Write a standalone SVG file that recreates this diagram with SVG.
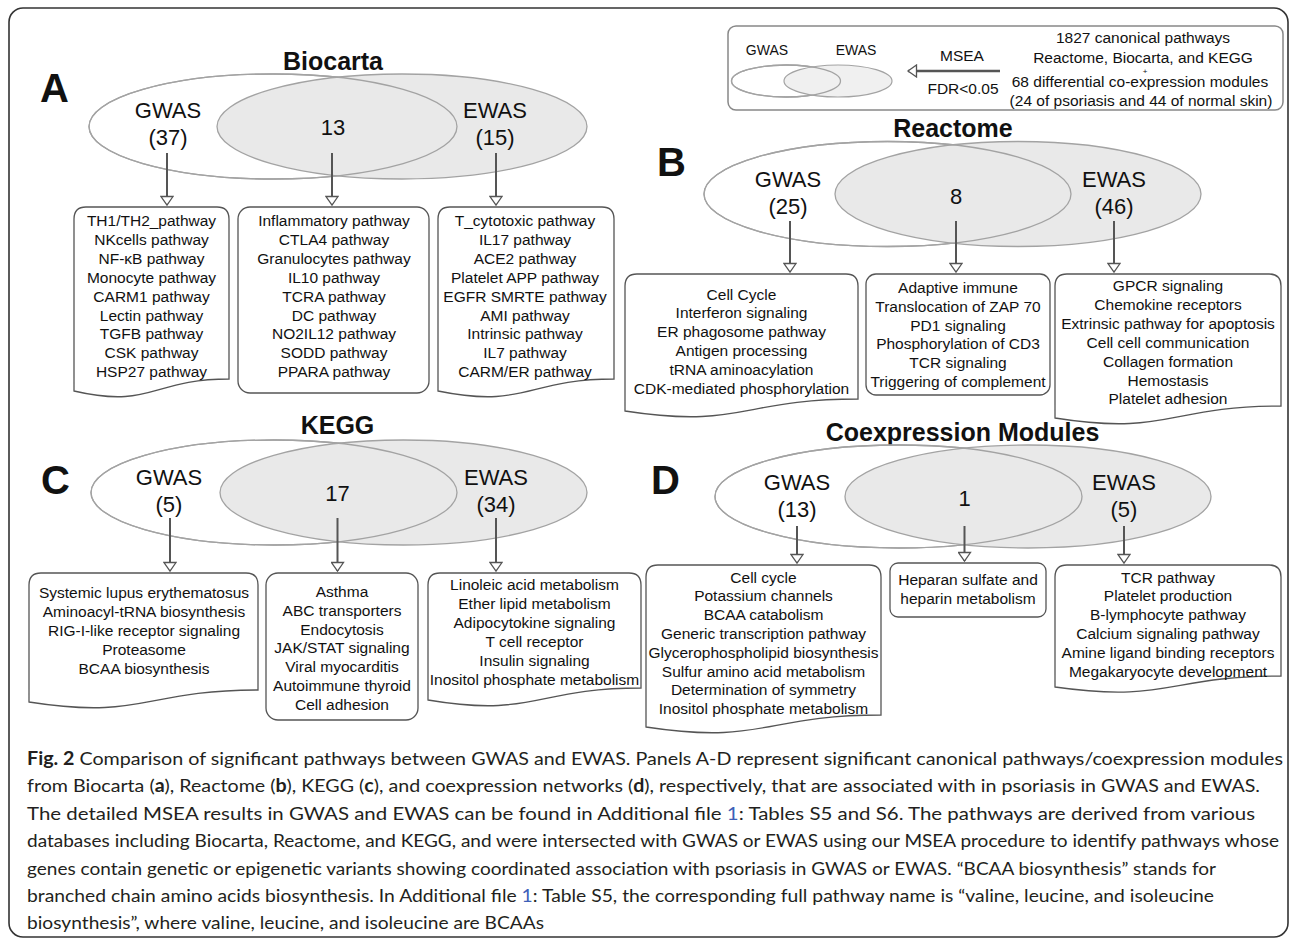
<svg xmlns="http://www.w3.org/2000/svg" width="1292" height="942" viewBox="0 0 1292 942">
<style>
.t{font-family:"Liberation Sans",Arial,Helvetica,sans-serif;fill:#111}
.bx{font-size:15.5px;text-anchor:middle}
.vn{font-size:22px;text-anchor:middle}
.ti{font-size:25px;font-weight:bold;text-anchor:middle}
.lt{font-size:40px;font-weight:bold}
.lg{font-size:15.5px;text-anchor:middle}
.cap{font-family:Lato,"Liberation Sans",Arial,sans-serif;font-size:18px;fill:#231f20}
.cap .b{font-weight:bold}
.cap .l{fill:#3d5fb8}
.shape{fill:#fff;stroke:#555;stroke-width:1.3}
.eg{fill:#fff;stroke:#a3a3a3;stroke-width:1.3}
.ee{fill:#e9e9e9;stroke:#a3a3a3;stroke-width:1.3}
.eo{fill:none;stroke:#a3a3a3;stroke-width:1.3}
.conn{stroke:#555;stroke-width:2;fill:none;marker-end:url(#ah)}
</style>
<defs>
<marker id="ah" markerUnits="userSpaceOnUse" markerWidth="12" markerHeight="14" refX="10" refY="7" orient="auto">
<path d="M1.5,1 L10,7 L1.5,13 Z" fill="#fff" stroke="#555" stroke-width="1.3"/>
</marker>
</defs>
<rect width="1292" height="942" fill="#fff"/>
<rect id="frame" x="9" y="8" width="1279" height="929" rx="14" fill="none" stroke="#333" stroke-width="1.6"/>

<g id="legend">
<rect x="728" y="26" width="555" height="84" rx="8" fill="#fff" stroke="#888" stroke-width="1.5"/>
<ellipse cx="786" cy="81" rx="54.5" ry="16" class="eg"/>
<ellipse cx="838" cy="81" rx="54" ry="16" fill="#f0f0f0" stroke="#a3a3a3" stroke-width="1.2"/>
<ellipse cx="786" cy="81" rx="54.5" ry="16" class="eo" stroke-width="1.2"/>
<text class="t" x="767" y="55" font-size="14" text-anchor="middle">GWAS</text>
<text class="t" x="856" y="55" font-size="14" text-anchor="middle">EWAS</text>
<text class="t lg" x="962" y="61">MSEA</text>
<text class="t lg" x="963" y="94">FDR&lt;0.05</text>
<line x1="1000" y1="71" x2="908" y2="71" stroke="#555" stroke-width="2.5" marker-end="url(#ah)"/>
<text class="t lg" x="1143" y="42.5">1827 canonical pathways</text>
<text class="t lg" x="1143" y="62.5">Reactome, Biocarta, and KEGG</text>
<text class="t" x="1145" y="73.5" font-size="8" text-anchor="middle">+</text>
<text class="t lg" x="1140" y="87">68 differential co-expression modules</text>
<text class="t lg" x="1141" y="105.5">(24 of psoriasis and 44 of normal skin)</text>
</g>

<!-- Panel A -->
<g id="panelA-venn">
<text class="t ti" x="333" y="70">Biocarta</text>
<text class="t lt" x="40" y="102">A</text>
<ellipse cx="273" cy="126.5" rx="184" ry="52.5" class="eg"/>
<ellipse cx="402" cy="126.5" rx="185" ry="52.5" class="ee"/>
<ellipse cx="273" cy="126.5" rx="184" ry="52.5" class="eo"/>
<text class="t vn" x="168" y="118">GWAS</text>
<text class="t vn" x="168" y="145">(37)</text>
<text class="t vn" x="333" y="135">13</text>
<text class="t vn" x="495" y="118">EWAS</text>
<text class="t vn" x="495" y="145">(15)</text>
</g>
<g id="boxA1">
<path class="shape" d="M74,219 Q74,207 86,207 H217 Q229,207 229,219 V379 C151.5,379 151.5,409 74,391 Z"/>
<g class="t bx">
<text x="151.5" y="226">TH1/TH2_pathway</text>
<text x="151.5" y="244.9">NKcells pathway</text>
<text x="151.5" y="263.8">NF-κB pathway</text>
<text x="151.5" y="282.7">Monocyte pathway</text>
<text x="151.5" y="301.6">CARM1 pathway</text>
<text x="151.5" y="320.5">Lectin pathway</text>
<text x="151.5" y="339.4">TGFB pathway</text>
<text x="151.5" y="358.3">CSK pathway</text>
<text x="151.5" y="377.2">HSP27 pathway</text>
</g>
</g>
<g id="boxA2">
<rect class="shape" x="238" y="207" width="191" height="186" rx="12"/>
<g class="t bx">
<text x="334" y="226">Inflammatory pathway</text>
<text x="334" y="244.9">CTLA4 pathway</text>
<text x="334" y="263.8">Granulocytes pathway</text>
<text x="334" y="282.7">IL10 pathway</text>
<text x="334" y="301.6">TCRA pathway</text>
<text x="334" y="320.5">DC pathway</text>
<text x="334" y="339.4">NO2IL12 pathway</text>
<text x="334" y="358.3">SODD pathway</text>
<text x="334" y="377.2">PPARA pathway</text>
</g>
</g>
<g id="boxA3">
<path class="shape" d="M438,219 Q438,207 450,207 H602 Q614,207 614,219 V379 C526,379 526,409 438,391 Z"/>
<g class="t bx">
<text x="525" y="226">T_cytotoxic pathway</text>
<text x="525" y="244.9">IL17 pathway</text>
<text x="525" y="263.8">ACE2 pathway</text>
<text x="525" y="282.7">Platelet APP pathway</text>
<text x="525" y="301.6">EGFR SMRTE pathway</text>
<text x="525" y="320.5">AMI pathway</text>
<text x="525" y="339.4">Intrinsic pathway</text>
<text x="525" y="358.3">IL7 pathway</text>
<text x="525" y="377.2">CARM/ER pathway</text>
</g>
</g>

<!-- Panel B -->
<g id="panelB-venn">
<text class="t ti" x="953" y="137">Reactome</text>
<text class="t lt" x="657" y="176">B</text>
<ellipse cx="887.5" cy="194" rx="183.5" ry="52.5" class="eg"/>
<ellipse cx="1018" cy="194" rx="183" ry="52.5" class="ee"/>
<ellipse cx="887.5" cy="194" rx="183.5" ry="52.5" class="eo"/>
<text class="t vn" x="788" y="187">GWAS</text>
<text class="t vn" x="788" y="214">(25)</text>
<text class="t vn" x="956" y="204">8</text>
<text class="t vn" x="1114" y="187">EWAS</text>
<text class="t vn" x="1114" y="214">(46)</text>
</g>
<g id="boxB1">
<path class="shape" d="M625,286 Q625,274 637,274 H846 Q858,274 858,286 V399 C741.5,399 741.5,429 625,411 Z"/>
<g class="t bx">
<text x="741.5" y="299.5">Cell Cycle</text>
<text x="741.5" y="318.3">Interferon signaling</text>
<text x="741.5" y="337.1">ER phagosome pathway</text>
<text x="741.5" y="355.9">Antigen processing</text>
<text x="741.5" y="374.7">tRNA aminoacylation</text>
<text x="741.5" y="393.5">CDK-mediated phosphorylation</text>
</g>
</g>
<g id="boxB2">
<rect class="shape" x="866" y="274" width="184" height="121" rx="10"/>
<g class="t bx">
<text x="958" y="293">Adaptive immune</text>
<text x="958" y="311.8">Translocation of ZAP 70</text>
<text x="958" y="330.6">PD1 signaling</text>
<text x="958" y="349.4">Phosphorylation of CD3</text>
<text x="958" y="368.2">TCR signaling</text>
<text x="958" y="387">Triggering of complement</text>
</g>
</g>
<g id="boxB3">
<path class="shape" d="M1055,286 Q1055,274 1067,274 H1269 Q1281,274 1281,286 V406 C1168,406 1168,436 1055,418 Z"/>
<g class="t bx">
<text x="1168" y="291">GPCR signaling</text>
<text x="1168" y="309.9">Chemokine receptors</text>
<text x="1168" y="328.8">Extrinsic pathway for apoptosis</text>
<text x="1168" y="347.7">Cell cell communication</text>
<text x="1168" y="366.6">Collagen formation</text>
<text x="1168" y="385.5">Hemostasis</text>
<text x="1168" y="404.4">Platelet adhesion</text>
</g>
</g>

<!-- Panel C -->
<g id="panelC-venn">
<text class="t ti" x="337.5" y="434">KEGG</text>
<text class="t lt" x="41" y="494">C</text>
<ellipse cx="274" cy="492.5" rx="183" ry="52.5" class="eg"/>
<ellipse cx="403.5" cy="492.5" rx="183.5" ry="52.5" class="ee"/>
<ellipse cx="274" cy="492.5" rx="183" ry="52.5" class="eo"/>
<text class="t vn" x="169" y="485">GWAS</text>
<text class="t vn" x="169" y="512">(5)</text>
<text class="t vn" x="337.5" y="501">17</text>
<text class="t vn" x="496" y="485">EWAS</text>
<text class="t vn" x="496" y="512">(34)</text>
</g>
<g id="boxC1">
<path class="shape" d="M29,585 Q29,573 41,573 H246 Q258,573 258,585 V690 C143.5,690 143.5,720 29,702 Z"/>
<g class="t bx">
<text x="144" y="597.5">Systemic lupus erythematosus</text>
<text x="144" y="616.5">Aminoacyl-tRNA biosynthesis</text>
<text x="144" y="635.5">RIG-I-like receptor signaling</text>
<text x="144" y="654.5">Proteasome</text>
<text x="144" y="673.5">BCAA biosynthesis</text>
</g>
</g>
<g id="boxC2">
<rect class="shape" x="266" y="573" width="152" height="147" rx="12"/>
<g class="t bx">
<text x="342" y="597">Asthma</text>
<text x="342" y="615.8">ABC transporters</text>
<text x="342" y="634.6">Endocytosis</text>
<text x="342" y="653.4">JAK/STAT signaling</text>
<text x="342" y="672.2">Viral myocarditis</text>
<text x="342" y="691">Autoimmune thyroid</text>
<text x="342" y="709.8">Cell adhesion</text>
</g>
</g>
<g id="boxC3">
<path class="shape" d="M428,585 Q428,573 440,573 H629 Q641,573 641,585 V688 C534.5,688 534.5,718 428,700 Z"/>
<g class="t bx">
<text x="534.5" y="590">Linoleic acid metabolism</text>
<text x="534.5" y="609">Ether lipid metabolism</text>
<text x="534.5" y="628">Adipocytokine signaling</text>
<text x="534.5" y="647">T cell receptor</text>
<text x="534.5" y="666">Insulin signaling</text>
<text x="534.5" y="685">Inositol phosphate metabolism</text>
</g>
</g>

<!-- Panel D -->
<g id="panelD-venn">
<text class="t ti" x="962.5" y="441">Coexpression Modules</text>
<text class="t lt" x="651" y="494">D</text>
<ellipse cx="898.5" cy="496.5" rx="183.5" ry="51.5" class="eg"/>
<ellipse cx="1028" cy="496.5" rx="183" ry="51.5" class="ee"/>
<ellipse cx="898.5" cy="496.5" rx="183.5" ry="51.5" class="eo"/>
<text class="t vn" x="797" y="490">GWAS</text>
<text class="t vn" x="797" y="517">(13)</text>
<text class="t vn" x="964.5" y="506">1</text>
<text class="t vn" x="1124" y="490">EWAS</text>
<text class="t vn" x="1124" y="517">(5)</text>
</g>
<g id="boxD1">
<path class="shape" d="M646,577 Q646,565 658,565 H869 Q881,565 881,577 V715 C763.5,715 763.5,745 646,727 Z"/>
<g class="t bx">
<text x="763.5" y="582.5">Cell cycle</text>
<text x="763.5" y="601.3">Potassium channels</text>
<text x="763.5" y="620.1">BCAA catabolism</text>
<text x="763.5" y="638.9">Generic transcription pathway</text>
<text x="763.5" y="657.7">Glycerophospholipid biosynthesis</text>
<text x="763.5" y="676.5">Sulfur amino acid metabolism</text>
<text x="763.5" y="695.3">Determination of symmetry</text>
<text x="763.5" y="714.1">Inositol phosphate metabolism</text>
</g>
</g>
<g id="boxD2">
<rect class="shape" x="890" y="563" width="156" height="54" rx="8"/>
<g class="t bx">
<text x="968" y="585">Heparan sulfate and</text>
<text x="968" y="604">heparin metabolism</text>
</g>
</g>
<g id="boxD3">
<path class="shape" d="M1055,577 Q1055,565 1067,565 H1269 Q1281,565 1281,577 V676 C1168,676 1168,703 1055,687 Z"/>
<g class="t bx">
<text x="1168" y="582.5">TCR pathway</text>
<text x="1168" y="601.3">Platelet production</text>
<text x="1168" y="620.1">B-lymphocyte pathway</text>
<text x="1168" y="638.9">Calcium signaling pathway</text>
<text x="1168" y="657.7">Amine ligand binding receptors</text>
<text x="1168" y="676.5">Megakaryocyte development</text>
</g>
</g>

<g id="connectors">
<line class="conn" x1="167" y1="153" x2="167" y2="205"/>
<line class="conn" x1="332" y1="153" x2="332" y2="205"/>
<line class="conn" x1="496" y1="153" x2="496" y2="205"/>
<line class="conn" x1="790" y1="221" x2="790" y2="272"/>
<line class="conn" x1="956" y1="221" x2="956" y2="272"/>
<line class="conn" x1="1114" y1="221" x2="1114" y2="272"/>
<line class="conn" x1="170" y1="518" x2="170" y2="571"/>
<line class="conn" x1="337.5" y1="518" x2="337.5" y2="571"/>
<line class="conn" x1="496" y1="518" x2="496" y2="571"/>
<line class="conn" x1="797" y1="526" x2="797" y2="563"/>
<line class="conn" x1="964.5" y1="526" x2="964.5" y2="561"/>
<line class="conn" x1="1124" y1="526" x2="1124" y2="563"/>
</g>

<g id="caption" class="cap">
<text x="27" y="765" textLength="1256" lengthAdjust="spacingAndGlyphs"><tspan class="b">Fig. 2</tspan> Comparison of significant pathways between GWAS and EWAS. Panels A-D represent significant canonical pathways/coexpression modules</text>
<text x="27" y="792" textLength="1233" lengthAdjust="spacingAndGlyphs">from Biocarta (<tspan class="b">a</tspan>), Reactome (<tspan class="b">b</tspan>), KEGG (<tspan class="b">c</tspan>), and coexpression networks (<tspan class="b">d</tspan>), respectively, that are associated with in psoriasis in GWAS and EWAS.</text>
<text x="27" y="819.5" textLength="1228" lengthAdjust="spacingAndGlyphs">The detailed MSEA results in GWAS and EWAS can be found in Additional file <tspan class="l">1</tspan>: Tables S5 and S6. The pathways are derived from various</text>
<text x="27" y="847" textLength="1252" lengthAdjust="spacingAndGlyphs">databases including Biocarta, Reactome, and KEGG, and were intersected with GWAS or EWAS using our MSEA procedure to identify pathways whose</text>
<text x="27" y="874.5" textLength="1189" lengthAdjust="spacingAndGlyphs">genes contain genetic or epigenetic variants showing coordinated association with psoriasis in GWAS or EWAS. “BCAA biosynthesis” stands for</text>
<text x="27" y="902" textLength="1187" lengthAdjust="spacingAndGlyphs">branched chain amino acids biosynthesis. In Additional file <tspan class="l">1</tspan>: Table S5, the corresponding full pathway name is “valine, leucine, and isoleucine</text>
<text x="27" y="929" textLength="517" lengthAdjust="spacingAndGlyphs">biosynthesis”, where valine, leucine, and isoleucine are BCAAs</text>
</g>
</svg>
